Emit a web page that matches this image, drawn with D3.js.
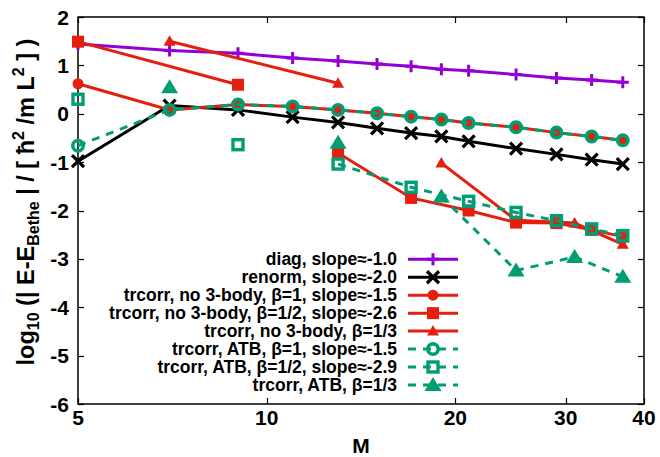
<!DOCTYPE html>
<html><head><meta charset="utf-8">
<script src="https://cdn.jsdelivr.net/npm/d3@7"></script>
<style>
html,body{margin:0;padding:0;background:#fff;}
svg text{font-family:"Liberation Sans",Arial,Helvetica,sans-serif;font-weight:bold;fill:#000;}
</style></head>
<body><svg id="c" width="660" height="457"></svg>
<script>
// ---- data ----
const mAll = [5,7,9,11,13,15,17,19,21,25,29,33,37];
const diag = [1.44,1.31,1.25,1.15,1.09,1.03,0.98,0.92,0.89,0.81,0.74,0.70,0.65];
const renorm = [-0.98,0.17,0.08,-0.07,-0.18,-0.30,-0.40,-0.47,-0.57,-0.72,-0.84,-0.95,-1.04];
const trNo3B1 = [0.62,0.08,0.19,0.15,0.08,0.01,-0.06,-0.12,-0.19,-0.28,-0.39,-0.47,-0.55];
const atbB1 = [-0.66,0.08,0.19,0.15,0.08,0.01,-0.06,-0.12,-0.19,-0.28,-0.39,-0.47,-0.55];
const mHalf = [5,9,13,17,21,25,29,33,37];
const trNo3Bhalf = [1.49,0.60,-0.81,-1.74,-2.00,-2.25,-2.26,-2.40,-2.54];
const trNo3BhalfSeg = [0,0,1,1,1,1,1,1,1];
const atbBhalf = [0.30,-0.64,-1.04,-1.52,-1.81,-2.04,-2.21,-2.38,-2.52];
const atbBhalfSeg = [0,1,2,2,2,2,2,2,2];
const mThird = [7,13,19,25,31,37];
const trNo3Bthird = [1.50,0.63,-1.02,-2.20,-2.26,-2.70];
const trNo3BthirdSeg = [0,0,1,1,1,1];
const atbBthird = [0.55,-0.60,-1.71,-3.24,-2.96,-3.37];
const atbBthirdSeg = [0,1,2,2,2,2];
const xTicks = [5,10,20,30,40];
const yTicks = [-6,-5,-4,-3,-2,-1,0,1,2];
const labels = [
  "diag, slope\u2248-1.0",
  "renorm, slope\u2248-2.0",
  "trcorr, no 3-body, \u03b2=1, slope\u2248-1.5",
  "trcorr, no 3-body, \u03b2=1/2, slope\u2248-2.6",
  "trcorr, no 3-body, \u03b2=1/3",
  "trcorr, ATB, \u03b2=1, slope\u2248-1.5",
  "trcorr, ATB, \u03b2=1/2, slope\u2248-2.9",
  "trcorr, ATB, \u03b2=1/3"
];

// ---- layout ----
const L = 78, R = 644, T = 17, B = 404;
const svg = d3.select("#c");
const x = d3.scaleLog().domain([5,40]).range([L,R]);
const y = d3.scaleLinear().domain([-6,2]).range([B,T]);

const PURPLE = "#9400d3", RED = "#e51e10", GREEN = "#009e73";

const series = [
  {ms:mAll, v:diag, color:PURPLE, dash:null, mk:"plus"},
  {ms:mAll, v:renorm, color:"#000", dash:null, mk:"cross"},
  {ms:mAll, v:trNo3B1, color:RED, dash:null, mk:"fcircle"},
  {ms:mHalf, v:trNo3Bhalf, seg:trNo3BhalfSeg, color:RED, dash:null, mk:"fsquare"},
  {ms:mThird, v:trNo3Bthird, seg:trNo3BthirdSeg, color:RED, dash:null, mk:"ftri"},
  {ms:mAll, v:atbB1, color:GREEN, dash:"8,7", mk:"ocircle"},
  {ms:mHalf, v:atbBhalf, seg:atbBhalfSeg, color:GREEN, dash:"8,7", mk:"osquare"},
  {ms:mThird, v:atbBthird, seg:atbBthirdSeg, color:GREEN, dash:"8,7", mk:"btri"}
];

function marker(g, kind, cx, cy, color){
  if(kind==="plus"){
    g.append("path").attr("d",`M${cx-6},${cy}H${cx+6}M${cx},${cy-6}V${cy+6}`)
     .attr("stroke",color).attr("stroke-width",3).attr("fill","none");
  } else if(kind==="cross"){
    g.append("path").attr("d",`M${cx-6},${cy-6}L${cx+6},${cy+6}M${cx-6},${cy+6}L${cx+6},${cy-6}`)
     .attr("stroke",color).attr("stroke-width",3.2).attr("fill","none");
  } else if(kind==="fcircle"){
    g.append("circle").attr("cx",cx).attr("cy",cy).attr("r",5.5).attr("fill",color);
  } else if(kind==="fsquare"){
    g.append("rect").attr("x",cx-6).attr("y",cy-6).attr("width",12).attr("height",12).attr("fill",color);
  } else if(kind==="ftri"){
    g.append("path").attr("d",`M${cx},${cy-6}L${cx+6},${cy+4.5}L${cx-6},${cy+4.5}Z`).attr("fill",color);
  } else if(kind==="ocircle"){
    g.append("circle").attr("cx",cx).attr("cy",cy).attr("r",5.2).attr("fill","none")
     .attr("stroke",color).attr("stroke-width",3.6);
  } else if(kind==="osquare"){
    g.append("rect").attr("x",cx-5).attr("y",cy-5).attr("width",10).attr("height",10).attr("fill","none")
     .attr("stroke",color).attr("stroke-width",3.4);
  } else if(kind==="btri"){
    g.append("path").attr("d",`M${cx},${cy-8}L${cx+8.5},${cy+6}L${cx-8.5},${cy+6}Z`).attr("fill",color);
  }
}

// axes frame, ticks
const axG = svg.append("g");
axG.append("rect").attr("x",L).attr("y",T).attr("width",R-L).attr("height",B-T)
  .attr("fill","none").attr("stroke","#000").attr("stroke-width",1.5);
const tl = 6;
xTicks.forEach(t=>{
  const px = Math.round(x(t))+0.5;
  axG.append("line").attr("x1",px).attr("x2",px).attr("y1",B).attr("y2",B-tl).attr("stroke","#000").attr("stroke-width",1.2);
  axG.append("line").attr("x1",px).attr("x2",px).attr("y1",T).attr("y2",T+tl).attr("stroke","#000").attr("stroke-width",1.2);
  axG.append("text").attr("x",x(t)).attr("y",B+21).attr("text-anchor","middle").attr("font-size",21).text(t);
});
yTicks.forEach(t=>{
  const py = Math.round(y(t))+0.5;
  axG.append("line").attr("x1",L).attr("x2",L+tl).attr("y1",py).attr("y2",py).attr("stroke","#000").attr("stroke-width",1.2);
  axG.append("line").attr("x1",R).attr("x2",R-tl).attr("y1",py).attr("y2",py).attr("stroke","#000").attr("stroke-width",1.2);
  axG.append("text").attr("x",L-9).attr("y",y(t)+7.5).attr("text-anchor","end").attr("font-size",21).text(t);
});

// axis labels
svg.append("text").attr("x",(L+R)/2).attr("y",453).attr("text-anchor","middle").attr("font-size",21).text("M");
const yl = svg.append("text").attr("transform",`translate(34,202) rotate(-90)`)
  .attr("text-anchor","middle").attr("font-size",23.5);
yl.append("tspan").text("log");
yl.append("tspan").attr("font-size",16).attr("dy",5).text("10");
yl.append("tspan").attr("dy",-5).text(" (| E-E");
yl.append("tspan").attr("font-size",16).attr("dy",5).text("Bethe");
yl.append("tspan").attr("dy",-5).text(" | / [ \u0127");
yl.append("tspan").attr("font-size",16).attr("dy",-10).text("2");
yl.append("tspan").attr("dy",10).text(" /m L");
yl.append("tspan").attr("font-size",16).attr("dy",-10).text("2");
yl.append("tspan").attr("dy",10).text(" ] )");

// data
const plotG = svg.append("g");
series.forEach(s=>{
  const pts = s.ms.map((m,i)=>({m, v:s.v[i], seg: s.seg ? s.seg[i] : 0}));
  const segs = d3.groups(pts, d=>d.seg).map(d=>d[1]);
  const line = d3.line().x(d=>x(d.m)).y(d=>y(d.v));
  segs.forEach(sp=>{
    if(sp.length>1){
      plotG.append("path").attr("d",line(sp)).attr("fill","none").attr("stroke",s.color)
        .attr("stroke-width",3).attr("stroke-dasharray",s.dash);
    }
  });
  pts.forEach(p=>marker(plotG, s.mk, x(p.m), y(p.v), s.color));
});

// legend
const lg = svg.append("g");
const ly0 = 259.3, ldy = 17.95, lx1 = 408, lx2 = 458, ltx = 397;
series.forEach((s,i)=>{
  const yy = ly0 + i*ldy;
  lg.append("text").attr("x",ltx).attr("y",yy+6).attr("text-anchor","end").attr("font-size",17.5).text(labels[i]);
  lg.append("line").attr("x1",lx1).attr("x2",lx2).attr("y1",yy).attr("y2",yy)
    .attr("stroke",s.color).attr("stroke-width",3).attr("stroke-dasharray",s.dash);
  marker(lg, s.mk, (lx1+lx2)/2, yy, s.color);
});
</script></body></html>
